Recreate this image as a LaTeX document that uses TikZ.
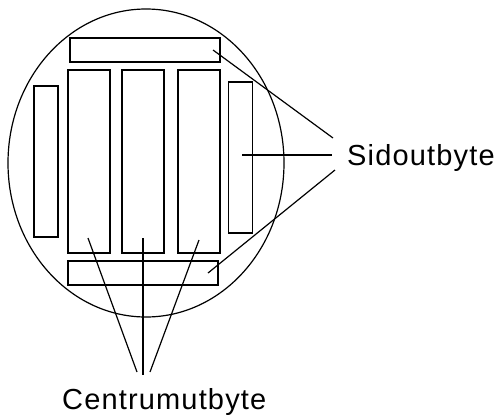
\documentclass[tikz,border=0pt]{standalone}
\usepackage{fontspec}
\setmainfont{Liberation Sans}
\newfontfamily\lblfont[LetterSpace=4]{Liberation Sans}
\begin{document}
\begin{tikzpicture}[x=1pt,y=-1pt,
  box/.style={draw=black, fill=white, line width=1.3pt, inner sep=0pt, outer sep=0pt},
  lead/.style={draw=black, line width=1.2pt},
  lbl/.style={font=\lblfont\fontsize{29}{34}\selectfont, inner sep=0pt, anchor=base west}]
\useasboundingbox (0,0) rectangle (496,416);
% outer circle
\draw[line width=1.2pt] (146,163) ellipse [x radius=138, y radius=154];
% slabs
\node (top)   [box, minimum width=150pt, minimum height=24pt] at (145,50) {};
\node (bot)   [box, minimum width=150pt, minimum height=24pt] at (143,273) {};
\node (left)  [box, minimum width=24pt, minimum height=151pt] at (46,161.5) {};
\node (right) [box, minimum width=24pt, minimum height=151pt] at (240.5,157.5) {};
\node (c1)    [box, minimum width=42pt, minimum height=183pt] at (89,161.5) {};
\node (c2)    [box, minimum width=42pt, minimum height=183pt] at (143,161.5) {};
\node (c3)    [box, minimum width=42pt, minimum height=183pt] at (199,161.5) {};
% labels
\node (side) [lbl] at (347,165) {Sidoutbyte};
\node (cent) [lbl] at (62,409) {Centrumutbyte};
% leader end points
\coordinate (s1) at (213,50);
\coordinate (s2) at (242,155);
\coordinate (s3) at (208,273);
\coordinate (e1) at (333,138);
\coordinate (e2) at (332,155);
\coordinate (e3) at (335,170);
\coordinate (m1) at (88,238);
\coordinate (m2) at (143,238);
\coordinate (m3) at (199,240);
\coordinate (f1) at (137,372);
\coordinate (f2) at (143,375);
\coordinate (f3) at (150,372);
\draw[lead] (s1) -- (e1);
\draw[lead] (s2) -- (e2);
\draw[lead] (s3) -- (e3);
\draw[lead] (m1) -- (f1);
\draw[lead] (m2) -- (f2);
\draw[lead] (m3) -- (f3);
\end{tikzpicture}
\end{document}
